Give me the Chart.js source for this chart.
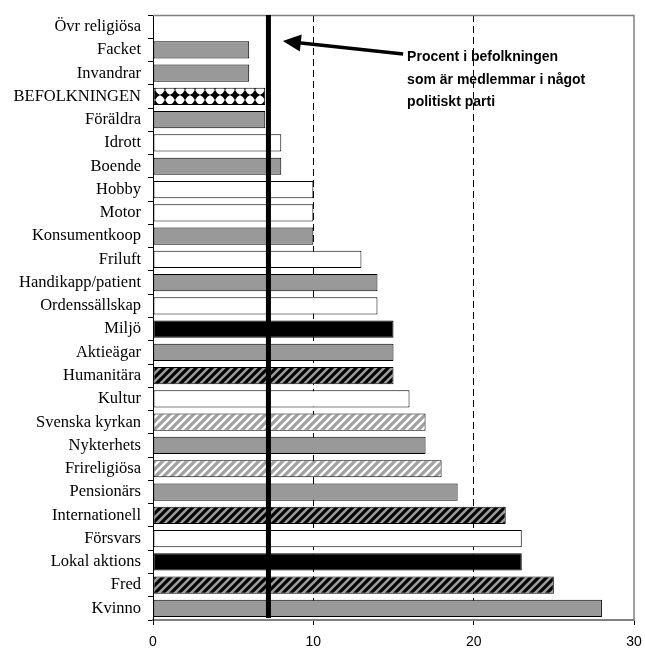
<!DOCTYPE html>
<html><head><meta charset="utf-8">
<script src="https://cdn.jsdelivr.net/npm/chart.js@4"></script>
<style>html,body{margin:0;padding:0;background:#fff;}</style>
</head><body>
<canvas id="c" width="645" height="653"></canvas>
<script>
const categories = ['Övr religiösa','Facket','Invandrar','BEFOLKNINGEN','Föräldra','Idrott','Boende','Hobby','Motor','Konsumentkoop','Friluft','Handikapp/patient','Ordenssällskap','Miljö','Aktieägar','Humanitära','Kultur','Svenska kyrkan','Nykterhets','Frireligiösa','Pensionärs','Internationell','Försvars','Lokal aktions','Fred','Kvinno'];
const values = [0,6,6,7,7,8,8,10,10,10,13,14,14,15,15,15,16,17,17,18,19,22,23,23,25,28];
const fillKinds = ['white','gray','gray','diamond','gray','white','gray','white','white','gray','white','gray','white','black','gray','darkHatch','white','lightHatch','gray','lightHatch','gray','darkHatch','white','black','darkHatch','gray'];
const xTickValues = [0,10,20,30];
const partyShare = 7.2;
const noteLines = ['Procent i befolkningen','som är medlemmar i något','politiskt parti'];

const canvas = document.getElementById('c');
const ctx0 = canvas.getContext('2d');

function hatch(bg, fg, w) {
  const c = document.createElement('canvas'); c.width = 8; c.height = 8;
  const x = c.getContext('2d');
  x.fillStyle = bg; x.fillRect(0,0,8,8);
  x.strokeStyle = fg; x.lineWidth = w; x.lineCap = 'square';
  x.beginPath();
  x.moveTo(-1,9); x.lineTo(9,-1);
  x.moveTo(-5,5); x.lineTo(5,-5);
  x.moveTo(3,13); x.lineTo(13,3);
  x.stroke();
  return ctx0.createPattern(c,'repeat');
}
function diamonds() {
  const c = document.createElement('canvas'); c.width = 10; c.height = 10;
  const x = c.getContext('2d');
  x.fillStyle = '#fff'; x.fillRect(0,0,10,10);
  x.fillStyle = '#000';
  x.beginPath(); x.moveTo(5,0); x.lineTo(10,5); x.lineTo(5,10); x.lineTo(0,5); x.closePath(); x.fill();
  x.fillStyle = '#fff';
  [[0,0],[10,0],[0,10],[10,10]].forEach(p=>{x.beginPath(); x.arc(p[0],p[1],3.9,0,Math.PI*2); x.fill();});
  return ctx0.createPattern(c,'repeat');
}
const fillMap = {
  gray: '#999999', white: '#ffffff', black: '#000000',
  darkHatch: hatch('#000000','#9a9a9a',2.6),
  lightHatch: hatch('#ffffff','#a0a0a0',3.2),
  diamond: diamonds()
};

const annot = {
  id: 'annot',
  afterDraw(chart) {
    const {ctx, chartArea: a, scales: {x}} = chart;
    ctx.save();
    ctx.strokeStyle = '#808080'; ctx.lineWidth = 1.5;
    ctx.beginPath(); ctx.moveTo(a.left, a.top + 0.5); ctx.lineTo(a.right, a.top + 0.5); ctx.lineTo(a.right, a.bottom); ctx.stroke();
    const px = x.getPixelForValue(partyShare);
    ctx.fillStyle = '#000';
    ctx.fillRect(px - 2.5, a.top, 5, a.bottom - a.top - 2);
    const tx = x.getPixelForValue(8.1), ty = a.top + 26;
    const sx = x.getPixelForValue(15.6), sy = a.top + 39;
    const ang = Math.atan2(sy - ty, sx - tx);
    const hl = 18, hw = 8.5;
    const bx = tx + Math.cos(ang) * hl, by = ty + Math.sin(ang) * hl;
    ctx.strokeStyle = '#000'; ctx.lineWidth = 3.5;
    ctx.beginPath(); ctx.moveTo(sx, sy); ctx.lineTo(bx - Math.cos(ang)*2, by - Math.sin(ang)*2); ctx.stroke();
    ctx.beginPath();
    ctx.moveTo(tx, ty);
    ctx.lineTo(bx + Math.sin(ang) * hw, by - Math.cos(ang) * hw);
    ctx.lineTo(bx - Math.sin(ang) * hw, by + Math.cos(ang) * hw);
    ctx.closePath(); ctx.fill();
    ctx.font = "bold 14px 'Liberation Sans', Arial, sans-serif";
    ctx.textAlign = 'left'; ctx.textBaseline = 'alphabetic';
    noteLines.forEach((t, i) => ctx.fillText(t, sx + 4, a.top + 46 + i * 22.5));
    ctx.restore();
  }
};

new Chart(canvas, {
  type: 'bar',
  data: {
    labels: categories,
    datasets: [{
      data: values,
      backgroundColor: fillKinds.map(k => fillMap[k]),
      borderColor: '#000',
      borderWidth: 1,
      borderSkipped: false,
      barPercentage: 0.74,
      categoryPercentage: 1.0
    }]
  },
  options: {
    indexAxis: 'y',
    responsive: false,
    animation: false,
    layout: { padding: { top: 15, right: 11, left: 0, bottom: 0 } },
    plugins: { legend: { display: false }, tooltip: { enabled: false } },
    scales: {
      x: {
        type: 'linear', min: 0, max: 30, position: 'bottom',
        afterBuildTicks: s => { s.ticks = xTickValues.map(v => ({ value: v })); },
        ticks: { color: '#000', font: { family: "'Liberation Sans', Arial, sans-serif", size: 14 }, padding: 9 },
        grid: {
          color: c => (c.tick && (c.tick.value === 10 || c.tick.value === 20)) ? '#000' : 'rgba(0,0,0,0)',
          lineWidth: 1, drawTicks: true, tickLength: 5, tickColor: '#000'
        },
        border: { display: true, color: '#808080', width: 2, dash: [7, 4] },
        afterFit: s => { s.height = 33; s.paddingLeft = 0; s.paddingRight = 0; }
      },
      y: {
        type: 'category', offset: true,
        ticks: { color: '#000', font: { family: "'Liberation Serif', 'Times New Roman', serif", size: 16.5 }, padding: 7, autoSkip: false },
        grid: { offset: true, drawOnChartArea: false, drawTicks: true, tickLength: 5, tickColor: '#000' },
        border: { display: true, color: '#000', width: 1 },
        afterFit: s => { s.width = 153; s.paddingTop = 0; s.paddingBottom = 0; }
      }
    }
  },
  plugins: [annot]
});
</script>
</body></html>
